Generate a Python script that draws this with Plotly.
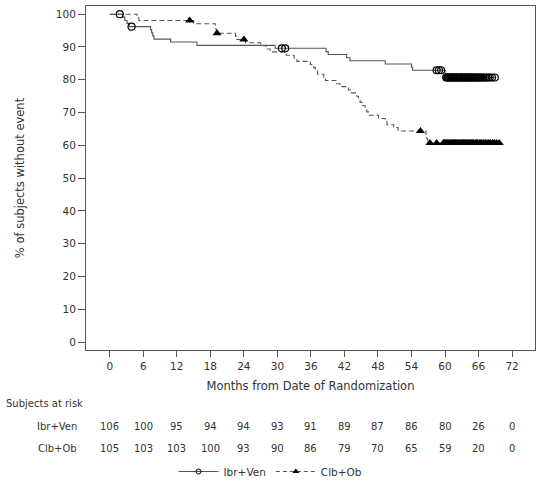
import numpy as np
import plotly.graph_objects as go

# Kaplan-Meier steps (months, % without event)
ibr_t = [0, 2.3, 2.7, 3.1, 3.5, 7.3, 7.5, 7.7, 7.9, 10.9, 15.6, 29.6, 38.7, 39.1,
         42.4, 43.0, 49.3, 54.0, 54.2, 60.0, 60.1, 68.9]
ibr_s = [100, 99.1, 98.1, 97.2, 96.2, 95.3, 94.3, 93.4, 92.4, 91.5, 90.5, 89.6, 88.6, 87.7,
         86.7, 85.8, 84.8, 83.8, 82.9, 81.8, 80.7, 80.7]
ibr_cens = [1.8, 3.9, 30.8, 31.4, 58.5, 58.9, 59.3, 60.2, 60.4, 60.5, 60.7, 60.9, 61.0,
            61.2, 61.4, 61.5, 61.7, 61.9, 62.1, 62.2, 62.4, 62.6, 62.8, 62.9, 63.1, 63.3,
            63.5, 63.6, 63.8, 64.0, 64.2, 64.4, 64.5, 64.7, 64.9, 65.1, 65.3, 65.5, 65.7,
            65.9, 66.1, 66.3, 66.6, 66.8, 67.1, 67.4, 67.7, 68.0, 68.4, 68.9]

clb_t = [0, 4.9, 5.2, 15.0, 18.9, 19.0, 19.1, 22.5, 22.7, 24.3, 27.0, 28.0, 28.7, 31.6,
         33.0, 33.5, 35.9, 36.5, 36.8, 37.2, 38.3, 38.6, 40.6, 41.2, 42.7, 43.2, 44.2,
         44.5, 44.8, 45.2, 45.7, 46.0, 46.3, 48.1, 49.3, 49.6, 50.8, 51.6, 56.6, 56.75,
         56.9, 69.7]
clb_s = [100, 99.0, 98.1, 97.1, 96.2, 95.2, 94.2, 93.3, 92.3, 91.3, 90.4, 89.4, 88.5, 87.5,
         86.6, 85.6, 84.6, 83.7, 82.7, 81.7, 80.8, 79.8, 78.8, 77.9, 76.9, 76.0, 75.0,
         74.0, 73.1, 72.1, 71.1, 70.2, 69.2, 68.2, 67.3, 66.3, 65.4, 64.4, 63.3, 62.0,
         60.7, 60.7]
clb_cens = [14.3, 19.2, 24.0, 55.6, 57.3, 58.5, 59.7, 59.9, 60.1, 60.3, 60.5, 60.7, 60.9,
            61.1, 61.3, 61.5, 61.7, 61.9, 62.1, 62.3, 62.5, 62.7, 62.9, 63.1, 63.3, 63.5,
            63.7, 63.9, 64.1, 64.3, 64.5, 64.7, 64.9, 65.1, 65.4, 65.6, 65.8, 66.1, 66.3,
            66.6, 66.9, 67.2, 67.5, 67.8, 68.1, 68.5, 68.8, 69.2, 69.7]

x_ticks = [0, 6, 12, 18, 24, 30, 36, 42, 48, 54, 60, 66, 72]
y_ticks = [0, 10, 20, 30, 40, 50, 60, 70, 80, 90, 100]
risk_ibr = [106, 100, 95, 94, 94, 93, 91, 89, 87, 86, 80, 26, 0]
risk_clb = [105, 103, 103, 100, 93, 90, 86, 79, 70, 65, 59, 20, 0]

FONT = "DejaVu Sans"
TXT = "#333333"
AX = "#555555"
LINE = "#555555"

# plot area in pixels (for placing the at-risk table below the axis)
W, H = 541, 484
M = dict(l=86, r=6, t=6, b=134)
plot_h = H - M["t"] - M["b"]


def ypaper(pix):
    return (H - M["b"] - pix) / plot_h


def step_at(ts, ss, x):
    i = np.searchsorted(np.array(ts), np.array(x), side="right") - 1
    return np.array(ss)[i]


fig = go.Figure()

# curves
fig.add_trace(go.Scatter(x=ibr_t, y=ibr_s, mode="lines", line_shape="hv",
                         line=dict(color=LINE, width=1.1), showlegend=False))
fig.add_trace(go.Scatter(x=clb_t, y=clb_s, mode="lines", line_shape="hv",
                         line=dict(color=LINE, width=1.1, dash="5px,3px"), showlegend=False))

# censor marks
fig.add_trace(go.Scatter(x=ibr_cens, y=step_at(ibr_t, ibr_s, ibr_cens), mode="markers",
                         marker=dict(symbol="circle-open", size=7, color="black",
                                     line=dict(width=1.2)), showlegend=False))
fig.add_trace(go.Scatter(x=clb_cens, y=step_at(clb_t, clb_s, clb_cens), mode="markers",
                         marker=dict(symbol="triangle-up", size=8, color="black"),
                         showlegend=False))

# legend entries
fig.add_trace(go.Scatter(x=[None], y=[None], mode="lines+markers", name="Ibr+Ven",
                         line=dict(color=LINE, width=1.1),
                         marker=dict(symbol="circle-open", size=5, color="black")))
fig.add_trace(go.Scatter(x=[None], y=[None], mode="lines+markers", name="Clb+Ob",
                         line=dict(color=LINE, width=1.1, dash="4px,3px"),
                         marker=dict(symbol="triangle-up", size=6, color="black")))

# subjects at risk table
ann = [dict(text="Subjects at risk", x=0, xref="paper", xshift=-82, y=ypaper(403),
            yref="paper", xanchor="left", yanchor="middle", showarrow=False,
            font=dict(size=10, color=TXT))]
for name, row, ypix in [("Ibr+Ven", risk_ibr, 426.5), ("Clb+Ob", risk_clb, 448.5)]:
    ann.append(dict(text=name, x=0, xref="paper", xshift=-7, y=ypaper(ypix), yref="paper",
                    xanchor="right", yanchor="middle", showarrow=False,
                    font=dict(size=10, color=TXT)))
    for xv, n in zip(x_ticks, row):
        ann.append(dict(text=str(n), x=xv, xref="x", y=ypaper(ypix), yref="paper",
                        xanchor="center", yanchor="middle", showarrow=False,
                        font=dict(size=10, color=TXT)))

fig.update_layout(
    width=W, height=H,
    margin=dict(M, autoexpand=False),
    paper_bgcolor="white", plot_bgcolor="white",
    font=dict(family=FONT, size=10.5, color=TXT),
    annotations=ann,
    legend=dict(orientation="h", x=0.5, xanchor="center", xref="container",
                y=1 - 471.5 / H, yanchor="middle", yref="container",
                font=dict(size=10.5, color=TXT), itemwidth=40, tracegroupgap=0),
)
fig.update_xaxes(range=[-4.25, 76.1], tickvals=x_ticks, ticktext=[str(v) for v in x_ticks],
                 ticks="outside", ticklen=6, tickcolor=AX, showline=True, linecolor=AX,
                 linewidth=1, mirror=True, showgrid=False, zeroline=False, automargin=False,
                 tickfont=dict(size=10.5, color=TXT),
                 title=dict(text="Months from Date of Randomization", standoff=11,
                            font=dict(size=11.5, color=TXT)))
fig.update_yaxes(range=[-2.4, 102.5], tickvals=y_ticks, ticktext=[str(v) for v in y_ticks],
                 ticks="outside", ticklen=7, tickcolor=AX, showline=True, linecolor=AX,
                 linewidth=1, mirror=True, showgrid=False, zeroline=False, automargin=False,
                 tickfont=dict(size=10.5, color=TXT),
                 title=dict(text="% of subjects without event", standoff=28,
                            font=dict(size=11.5, color=TXT)))

# page body has a default 8px margin; remove it so the figure fills the window
fig.write_html("out.html", config={"displayModeBar": False},
               post_script="document.body.style.margin='0';")
